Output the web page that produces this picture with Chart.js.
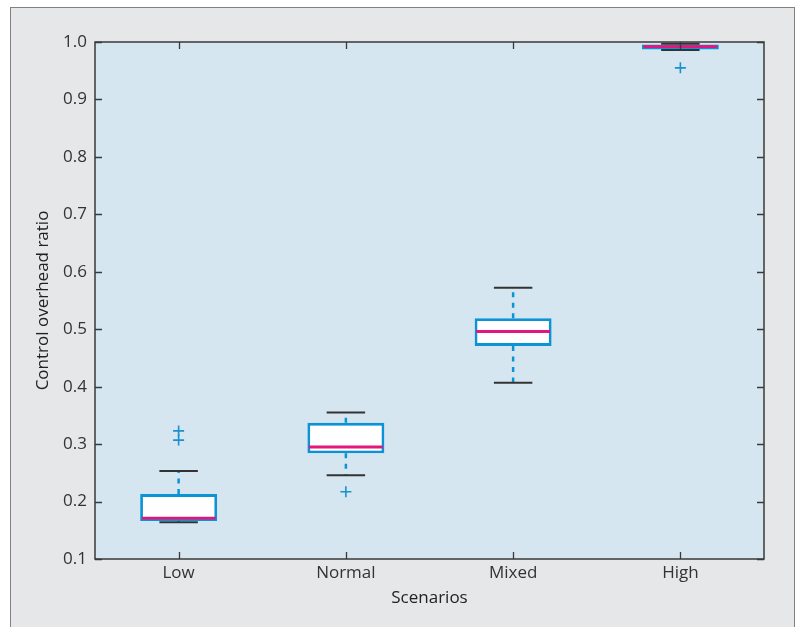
<!DOCTYPE html>
<html>
<head>
<meta charset="utf-8">
<script src="https://cdn.jsdelivr.net/npm/chart.js@4/dist/chart.umd.min.js"></script>
<style>
  html, body { margin: 0; padding: 0; background: #ffffff; width: 797px; height: 627px; overflow: hidden; }
  #panel { position: absolute; left: 10px; top: 7px; width: 785px; height: 640px; background: #e6e7e9; border: 1px solid #808080; box-sizing: border-box; }
  #wrap { position: absolute; left: 0; top: 0; width: 797px; height: 627px; }
</style>
</head>
<body>
<div id="panel"></div>
<div id="wrap"><canvas id="c" width="797" height="627"></canvas></div>
<script>
// ---- data ----
const categories = ['Low', 'Normal', 'Mixed', 'High'];
const q1 = [0.166, 0.284, 0.471, 0.987];
const q3 = [0.213, 0.337, 0.519, 0.9955];
const medians = [0.171, 0.295, 0.496, 0.992];
const whiskerLow = [0.164, 0.246, 0.407, 0.986];
const whiskerHigh = [0.253, 0.355, 0.572, 0.997];
const outlierCats = ['Low', 'Low', 'Normal', 'High'];
const outlierVals = [0.323, 0.307, 0.217, 0.955];
const yMin = 0.1, yMax = 1.0, yStep = 0.1;

const BLUE = '#0a94d6';
const MAGENTA = '#e4157c';
const DARK = '#333333';

const boxPlugin = {
  id: 'boxExtras',
  beforeDraw(chart) {
    const { ctx, chartArea: a } = chart;
    ctx.save();
    ctx.fillStyle = '#d6e6f1';
    ctx.fillRect(a.left, a.top, a.right - a.left, a.bottom - a.top);
    ctx.restore();
  },
  beforeDatasetsDraw(chart) {
    const { ctx } = chart;
    const xs = chart.scales.x, ys = chart.scales.y;
    ctx.save();
    ctx.strokeStyle = BLUE;
    ctx.lineWidth = 2.5;
    ctx.setLineDash([5, 5.5]);
    categories.forEach((c, i) => {
      const x = xs.getPixelForValue(i);
      ctx.beginPath();
      ctx.moveTo(x, ys.getPixelForValue(q3[i]));
      ctx.lineTo(x, ys.getPixelForValue(whiskerHigh[i]));
      ctx.moveTo(x, ys.getPixelForValue(q1[i]));
      ctx.lineTo(x, ys.getPixelForValue(whiskerLow[i]));
      ctx.stroke();
    });
    ctx.restore();
  },
  afterDatasetsDraw(chart) {
    const { ctx } = chart;
    const xs = chart.scales.x, ys = chart.scales.y;
    const meta = chart.getDatasetMeta(0);
    ctx.save();
    categories.forEach((c, i) => {
      const x = xs.getPixelForValue(i);
      const bw = meta.data[i].width;
      ctx.strokeStyle = MAGENTA;
      ctx.lineWidth = 2.8;
      ctx.beginPath();
      const ym = ys.getPixelForValue(medians[i]);
      ctx.moveTo(x - bw / 2 + 1.5, ym);
      ctx.lineTo(x + bw / 2 - 1.5, ym);
      ctx.stroke();
      ctx.strokeStyle = DARK;
      ctx.lineWidth = 2;
      const cw = bw * 0.5;
      [whiskerHigh[i], whiskerLow[i]].forEach(v => {
        const y = ys.getPixelForValue(v);
        ctx.beginPath();
        ctx.moveTo(x - cw / 2, y);
        ctx.lineTo(x + cw / 2, y);
        ctx.stroke();
      });
    });
    ctx.restore();
  },
  afterDraw(chart) {
    const { ctx, chartArea: a } = chart;
    const xs = chart.scales.x, ys = chart.scales.y;
    ctx.save();
    ctx.strokeStyle = '#3a3a3a';
    ctx.lineWidth = 1.5;
    ctx.strokeRect(a.left, a.top, a.right - a.left, a.bottom - a.top);
    ctx.lineWidth = 1.3;
    const tl = 7;
    ys.ticks.forEach(t => {
      const y = Math.round(ys.getPixelForValue(t.value)) + 0.5;
      ctx.beginPath();
      ctx.moveTo(a.left, y); ctx.lineTo(a.left + tl, y);
      ctx.moveTo(a.right, y); ctx.lineTo(a.right - tl, y);
      ctx.stroke();
    });
    categories.forEach((c, i) => {
      const x = Math.round(xs.getPixelForValue(i)) + 0.5;
      ctx.beginPath();
      ctx.moveTo(x, a.bottom); ctx.lineTo(x, a.bottom - tl);
      ctx.moveTo(x, a.top); ctx.lineTo(x, a.top + tl);
      ctx.stroke();
    });
    ctx.restore();
  }
};

const FONT = "'Open Sans', 'Noto Sans', sans-serif";

new Chart(document.getElementById('c'), {
  data: {
    labels: categories,
    datasets: [
      {
        type: 'bar',
        data: categories.map((c, i) => [q1[i], q3[i]]),
        backgroundColor: '#ffffff',
        borderColor: BLUE,
        borderWidth: 2.8,
        borderSkipped: false,
        barPercentage: 0.46,
        categoryPercentage: 1.0,
        order: 2
      },
      {
        type: 'line',
        data: outlierCats.map((c, i) => ({ x: c, y: outlierVals[i] })),
        showLine: false,
        pointStyle: 'cross',
        pointRadius: 5.5,
        pointBorderWidth: 1.6,
        borderColor: '#1b90d0',
        backgroundColor: '#1b90d0',
        order: 1
      }
    ]
  },
  options: {
    responsive: false,
    animation: false,
    events: [],
    layout: { padding: { left: 29, top: 42, right: 33, bottom: 15 } },
    plugins: { legend: { display: false }, tooltip: { enabled: false } },
    scales: {
      x: {
        type: 'category',
        offset: true,
        grid: { display: false, drawTicks: false },
        border: { display: false },
        ticks: { color: '#333333', font: { family: FONT, size: 17 }, padding: 4 },
        title: { display: true, text: 'Scenarios', color: '#222222', font: { family: FONT, size: 17 }, padding: { top: 4, bottom: 4 } },
        afterFit(s) { s.height = 53; }
      },
      y: {
        min: yMin, max: yMax,
        grid: { display: false, drawTicks: false },
        border: { display: false },
        ticks: {
          stepSize: yStep,
          color: '#333333',
          font: { family: FONT, size: 17 },
          padding: 8,
          callback: v => Number(v).toFixed(1)
        },
        title: { display: true, text: 'Control overhead ratio', color: '#222222', font: { family: FONT, size: 17 }, padding: { top: 4, bottom: 4 } },
        afterFit(s) { s.width = 66; }
      }
    }
  },
  plugins: [boxPlugin]
});
</script>
</body>
</html>
